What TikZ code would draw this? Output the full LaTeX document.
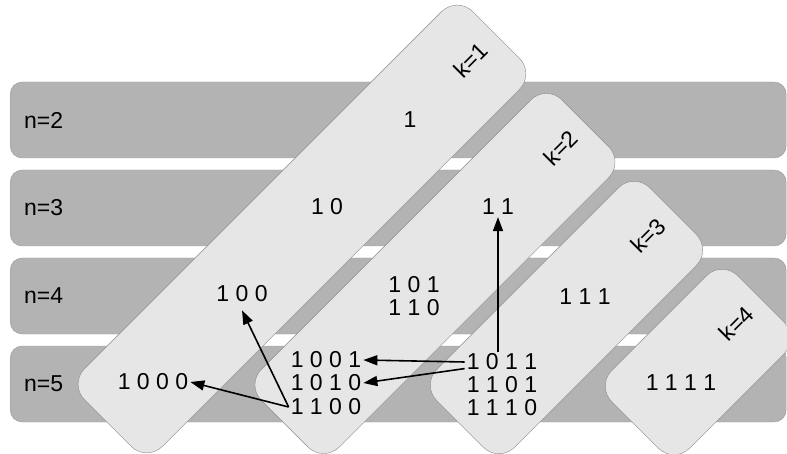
\documentclass[tikz,border=0pt]{standalone}
\usepackage{fontspec}
\setmainfont{Liberation Sans}
\usetikzlibrary{arrows.meta,calc}

\definecolor{barfill}{HTML}{B3B3B3}
\definecolor{barline}{HTML}{9C9C9C}
\definecolor{kfill}{HTML}{E6E6E6}
\definecolor{kline}{HTML}{8A8A8A}

\tikzset{
  nbar/.style={draw=barline,fill=barfill,rounded corners=12pt,anchor=west,
    minimum height=76pt,text width=748pt,inner xsep=14pt,align=left},
  kbox/.style={draw=kline,fill=kfill,rounded corners=22pt,rotate=45,
    minimum height=110pt},
}

\begin{document}
\begin{tikzpicture}[x=1pt,y=-1pt,font=\fontsize{23}{23.5}\selectfont]

      \useasboundingbox (0,0) rectangle (787,454);
      \clip (0,0) rectangle (787,454);

      % rows
      \begin{scope}[every node/.style={nbar}]
        \node (n2) at (10,120) {n=2};
        \node (n3) at (10,208) {n=3};
        \node (n4) at (10,296) {n=4};
        \node (n5) at (10,384) {n=5};
      \end{scope}

      % diagonal boxes
      \node[kbox,minimum width=549pt] (k1) at (302,229) {};
      \node[kbox,minimum width=425pt] (k2) at (435,273.5) {};
      \node[kbox,minimum width=301pt] (k3) at (566.5,317.5) {};
      \node[kbox,minimum width=178pt] (k4) at (698,362) {};

      \begin{scope}[every node/.style={rotate=45}]
        \node (lk1) at ($(k1.east)!36pt!(k1.center)$) {k=1};
        \node (lk2) at ($(k2.east)!35pt!(k2.center)$) {k=2};
        \node (lk3) at ($(k3.east)!35pt!(k3.center)$) {k=3};
        \node (lk4) at ($(k4.east)!35pt!(k4.center)$) {k=4};
      \end{scope}

      \begin{scope}[every node/.style={inner sep=2pt}]
        \node (w1)    at (410,120) {1};
        \node (w10)   at (327,207) {1 0};
        \node (w100)  at (242,294) {1 0 0};
        \node (w1000) at (153,382) {1 0 0 0};
        \node (w11)   at (498,207) {1 1};
        \node (w101)  at (414,285) {1 0 1};
        \node (w110)  at (414,308) {1 1 0};
        \node (w1001) at (326,360) {1 0 0 1};
        \node (w1010) at (326,383) {1 0 1 0};
        \node (w1100) at (326,407) {1 1 0 0};
        \node (w111)  at (585,297) {1 1 1};
        \node (w1011) at (502,362) {1 0 1 1};
        \node (w1101) at (502,385) {1 1 0 1};
        \node (w1110) at (502,408) {1 1 1 0};
        \node (w1111) at (681,383) {1 1 1 1};
      \end{scope}

      \begin{scope}[every edge/.style={draw,line width=1.6pt,
          -{Triangle[length=14pt,width=10pt]}}]
        \path (w1100.west) edge (w1000.east);
        \path (w1100.west) edge ([yshift=-6pt]w100.south);
        \path (w1011.west) edge (w1001.east);
        \path (w1011.190)  edge (w1010.east);
        \path (w11 |- w1011.north) edge (w11.south);
      \end{scope}

    \end{tikzpicture}
\end{document}
